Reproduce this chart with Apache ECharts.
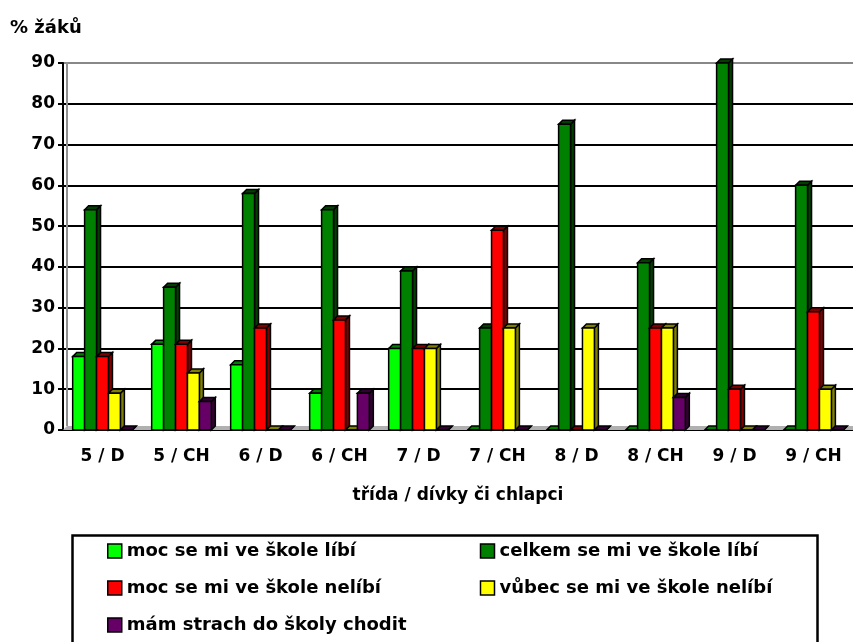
<!DOCTYPE html>
<html>
<head>
<meta charset="utf-8">
<script src="https://cdn.jsdelivr.net/npm/echarts@6/dist/echarts.min.js"></script>
<style>
    html,body{margin:0;padding:0;background:#fff;}
    #chart{width:853px;height:642px;}
</style>
</head>
<body>
<div id="chart"></div>
<script>
// kategorie - třída / dívky či chlapci
var categories=['5 / D','5 / CH','6 / D','6 / CH','7 / D','7 / CH','8 / D','8 / CH','9 / D','9 / CH'];
var seriesNames=['moc se mi ve škole líbí','celkem se mi ve škole líbí','moc se mi ve škole nelíbí','vůbec se mi ve škole nelíbí','mám strach do školy chodit'];
var mocLibi=[18,21,16,9,20,0,0,0,0,0];
var celkemLibi=[54,35,58,54,39,25,75,41,90,60];
var mocNelibi=[18,21,25,27,20,49,0,25,10,29];
var vubecNelibi=[9,14,0,0,20,25,25,25,0,10];
var strach=[0,7,0,9,0,0,0,8,0,0];
var yTicks=[0,10,20,30,40,50,60,70,80,90];

var colors=['#00ff00','#008000','#ff0000','#ffff00','#660066'];
var darkColors=['#008000','#003f00','#800000','#808000','#330033'];
var seriesData=[mocLibi,celkemLibi,mocNelibi,vubecNelibi,strach];

var fontBold={fontFamily:'DejaVu Sans, sans-serif',fontWeight:'bold',color:'#000'};

// 3D sloupec: přední stěna, horní a boční plocha
function makeRender(s){
    return function(params,api){
        var idx=api.value(0);
        var base=api.coord([idx,0]);
        var top=api.coord([idx,api.value(1)]);
        var band=api.size([1,0])[0];
        var bw=band*0.151;
        var d=4;
        var x0=base[0]-2.5*bw+s*bw;
        var y0=top[1], y1=base[1];
        var st={stroke:'#000',lineWidth:1.5};
        return {
            type:'group',
            children:[
                {type:'polygon',shape:{points:[[x0+bw,y0],[x0+bw+d,y0-d],[x0+bw+d,y1-d],[x0+bw,y1]]},
                    style:Object.assign({fill:darkColors[s]},st)},
                {type:'polygon',shape:{points:[[x0,y0],[x0+d,y0-d],[x0+bw+d,y0-d],[x0+bw,y0]]},
                    style:Object.assign({fill:darkColors[s]},st)},
                {type:'rect',shape:{x:x0,y:y0,width:bw,height:y1-y0},
                    style:Object.assign({fill:colors[s]},st)}
            ]
        };
    };
}

function each(arr,fn){for(var i=0;i<arr.length;i++){fn(i,arr[i]);}}

var series=[];
each(seriesData,function(s,vals){
    var data=[];
    each(vals,function(i,v){data.push([i,v]);});
    series.push({
        name:seriesNames[s],
        type:'custom',
        renderItem:makeRender(s),
        encode:{x:0,y:1},
        itemStyle:{color:colors[s],borderColor:'#000',borderWidth:1.5},
        data:data
    });
});

var splitColors=[];
each(yTicks,function(i){splitColors.push(i===yTicks.length-1?'#888':'#000');});

var myChart=echarts.init(document.getElementById('chart'));
var option={
    animation:false,
    backgroundColor:'#fff',
    title:{
        text:'% žáků',
        left:5,
        top:14,
        textStyle:Object.assign({fontSize:18},fontBold)
    },
    grid:{left:63,right:-6,top:63,bottom:212,containLabel:false},
    legend:{
        left:107,
        top:539,
        width:740,
        padding:0,
        itemGap:13,
        itemWidth:14,
        itemHeight:14,
        icon:'rect',
        itemStyle:{borderColor:'#000',borderWidth:1.5},
        textStyle:Object.assign({fontSize:18,width:340,lineHeight:24},fontBold),
        data:seriesNames
    },
    graphic:[
        // podlaha a levá stěna (3D dojem)
        {type:'polygon',z:1,silent:true,
            shape:{points:[[63,430],[67,426],[853,426],[853,430]]},
            style:{fill:'#b0b0b0'}},
        {type:'line',z:1,silent:true,
            shape:{x1:67,y1:62,x2:67,y2:426},
            style:{stroke:'#909090',lineWidth:2}},
        {type:'rect',left:70,top:533,silent:true,
            shape:{width:745,height:130},
            style:{fill:'none',stroke:'#000',lineWidth:2.5}}
    ],
    xAxis:{
        type:'category',
        data:categories,
        name:'třída / dívky či chlapci',
        nameLocation:'middle',
        nameGap:57,
        nameTextStyle:Object.assign({fontSize:17},fontBold),
        axisLine:{lineStyle:{color:'#000',width:2}},
        axisTick:{length:7,lineStyle:{color:'#000',width:2}},
        axisLabel:Object.assign({fontSize:17,margin:18,interval:0},fontBold)
    },
    yAxis:{
        type:'value',
        min:0,
        max:90,
        interval:10,
        axisLine:{show:true,lineStyle:{color:'#000',width:2}},
        axisTick:{show:true,length:5,lineStyle:{color:'#000',width:2}},
        axisLabel:Object.assign({fontSize:17,margin:8},fontBold),
        splitLine:{lineStyle:{color:splitColors,width:2}}
    },
    series:series
};
myChart.setOption(option);
</script>
</body>
</html>
